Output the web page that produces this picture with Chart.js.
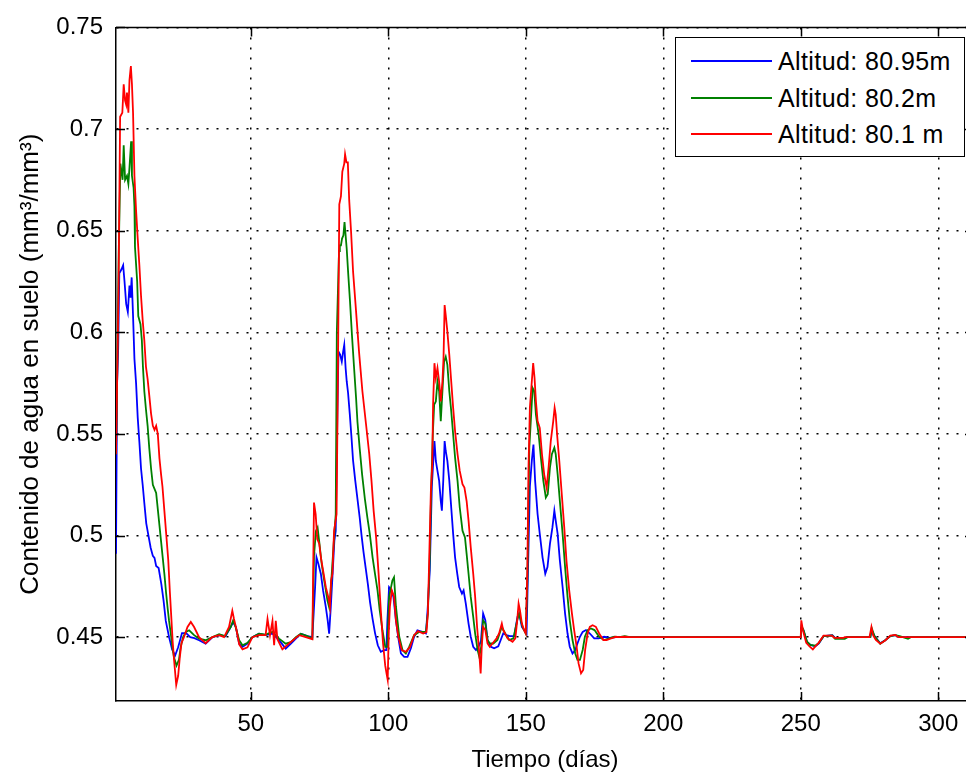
<!DOCTYPE html>
<html>
<head>
<meta charset="utf-8">
<script src="https://cdn.jsdelivr.net/npm/chart.js@4/dist/chart.umd.min.js"></script>
<style>
  body { margin: 0; background: #fff; }
  #wrap { position: relative; width: 966px; height: 772px; overflow: hidden; background: #fff; }
  #soilChart { display: block; }
  #legendBox {
    position: absolute; left: 675px; top: 37px; width: 288px; height: 118px;
    border: 1.5px solid #000; background: #fff;
    font-family: "Liberation Sans", Arial, sans-serif; font-size: 25px; color: #000;
  }
  .legendRow { position: absolute; left: 0; height: 36px; display: flex; align-items: center; }
  .legendLine { width: 81px; height: 2px; margin-left: 15px; margin-right: 6px; }
  .legendText { letter-spacing: 0.4px; white-space: nowrap; }
</style>
</head>
<body>
<div id="wrap">
  <canvas id="soilChart" width="980" height="772"></canvas>
  <div id="legendBox"></div>
</div>
<script>
// ticks of the axes
var dayTicks = [50, 100, 150, 200, 250, 300];
var valueTicks = [0.45, 0.5, 0.55, 0.6, 0.65, 0.7, 0.75];
var valueTickLabels = ["0.45", "0.5", "0.55", "0.6", "0.65", "0.7", "0.75"];

var seriesNames = ["Altitud: 80.95m", "Altitud: 80.2m", "Altitud: 80.1 m"];
var seriesColors = ["#0000ff", "#008000", "#ff0000"];

// [day, contenido de agua]
var blueSeries = [
  [1,0.491],[1.4,0.575],[1.8,0.592],[2.2,0.629],[3.0,0.631],[3.6,0.633],[4.1,0.625],[4.7,0.614],
  [5.3,0.610],[5.9,0.623],[6.3,0.617],[6.7,0.627],[7.2,0.608],[7.7,0.587],[8.3,0.575],[8.9,0.558],
  [9.5,0.546],[10.1,0.533],[10.7,0.525],[11.3,0.516],[12.0,0.506],[12.8,0.500],[13.6,0.494],
  [14.4,0.490],[15.0,0.489],[15.6,0.485],[16.5,0.484],[17.5,0.476],[18.3,0.468],[19.1,0.458],
  [20.3,0.450],[21.4,0.444],[22.5,0.441],[23.6,0.445],[25.0,0.452],[26.5,0.452],[28.0,0.450],
  [29.5,0.4495],[31.2,0.4485],[33.6,0.4468],[36.1,0.450],[38.5,0.451],[40.8,0.4505],[42.7,0.455],
  [43.6,0.4574],[44.6,0.455],[45.8,0.4468],[47.0,0.4452],[48.8,0.4468],[50.6,0.450],[53.0,0.4517],
  [55.4,0.451],[57.9,0.4517],[60.3,0.4485],[62.7,0.4444],[64.6,0.4468],[66.4,0.4493],[68.2,0.4517],
  [70.6,0.4505],[72.4,0.450],[73.4,0.4746],[73.9,0.4893],[74.6,0.486],[75.5,0.4811],[76.3,0.473],
  [77.3,0.4648],[78.0,0.458],[78.5,0.4517],[79.1,0.4648],[79.7,0.4795],[80.4,0.4974],[80.9,0.5023],
  [81.5,0.560],[81.9,0.5905],[82.5,0.589],[83.1,0.5856],[83.6,0.5905],[84.0,0.5938],[84.5,0.5823],
  [84.9,0.5758],[85.4,0.570],[86.0,0.560],[86.6,0.549],[87.2,0.537],[88.0,0.527],[88.8,0.518],
  [89.6,0.509],[90.3,0.500],[91.0,0.492],[91.8,0.484],[92.6,0.476],[93.4,0.467],[94.3,0.459],
  [95.2,0.452],[96.2,0.446],[97.3,0.4428],[98.5,0.4436],[99.3,0.4436],[99.7,0.4583],[100.3,0.4746],
  [101.2,0.473],[101.9,0.4697],[102.8,0.4583],[103.6,0.4502],[104.6,0.442],[105.8,0.4403],
  [107.0,0.4403],[108.2,0.4444],[109.4,0.4502],[110.6,0.4534],[112.4,0.4526],[113.7,0.4518],
  [114.3,0.4632],[115.1,0.4828],[115.85,0.524],[116.3,0.535],[116.8,0.5465],[117.3,0.5367],
  [117.9,0.5318],[118.5,0.527],[119.1,0.517],[119.5,0.5122],[120.0,0.527],[120.5,0.5465],
  [120.9,0.5416],[121.5,0.5367],[122.2,0.527],[122.9,0.5138],[123.6,0.5008],[124.3,0.4893],
  [125.1,0.4812],[125.8,0.4747],[126.8,0.4714],[127.4,0.473],[128.2,0.4665],[129.2,0.4567],
  [130.0,0.4502],[130.9,0.4453],[131.9,0.4437],[132.8,0.4453],[133.7,0.448],[134.5,0.4616],
  [135.3,0.4583],[136.1,0.4486],[137.3,0.4453],[138.5,0.4445],[140.0,0.4455],[140.9,0.4486],
  [141.8,0.4518],[143.0,0.451],[144.2,0.4505],[145.8,0.4505],[147.0,0.460],[147.6,0.4616],
  [148.6,0.4551],[149.4,0.4535],[150.3,0.4518],[151.0,0.4942],[151.5,0.524],[152.2,0.5367],
  [152.8,0.5448],[153.4,0.527],[154.3,0.5106],[155.1,0.5008],[156.1,0.4893],[157.1,0.4812],
  [157.9,0.4845],[158.8,0.4959],[159.7,0.504],[160.4,0.5122],[160.9,0.5073],[161.6,0.5008],
  [162.4,0.4877],[163.4,0.4747],[164.3,0.4616],[165.2,0.4518],[166.0,0.4453],[167.0,0.442],
  [168.0,0.4437],[168.8,0.4469],[169.7,0.4502],[170.7,0.4526],[171.9,0.4535],[173.3,0.4518],
  [174.9,0.4494],[176.5,0.4494],[178.5,0.4502],[180.5,0.4497],[182.8,0.450],[250.0,0.450],
  [250.3,0.455],[251.0,0.4533],[252.3,0.4475],[253.5,0.4462],[255.3,0.4455],[256.6,0.447],
  [258.3,0.4505],[261.5,0.451],[262.5,0.4497],[265.6,0.4495],[267.0,0.450],[275.3,0.450],
  [275.8,0.4535],[276.8,0.4505],[278.9,0.447],[280.7,0.4485],[282.6,0.4505],[284.4,0.451],
  [286.0,0.450],[313,0.450]
];

var greenSeries = [
  [1,0.540],[1.4,0.575],[2.0,0.640],[2.6,0.683],[3.4,0.675],[3.8,0.692],[4.3,0.675],[5.0,0.677],
  [5.5,0.673],[5.9,0.681],[6.5,0.694],[6.8,0.677],[7.4,0.671],[7.7,0.662],[7.9,0.642],[8.7,0.625],
  [9.1,0.608],[9.9,0.604],[10.4,0.596],[10.8,0.583],[11.3,0.571],[11.9,0.562],[12.5,0.554],
  [13.1,0.543],[13.75,0.533],[14.4,0.525],[15.0,0.523],[15.6,0.521],[16.2,0.513],[16.8,0.505],
  [17.4,0.497],[18.0,0.489],[18.6,0.481],[19.2,0.472],[19.8,0.464],[20.3,0.458],[20.9,0.452],
  [21.5,0.445],[22.1,0.440],[23.0,0.436],[23.9,0.439],[24.5,0.445],[25.4,0.450],[26.4,0.4526],
  [27.6,0.4534],[29.4,0.451],[31.2,0.4493],[33.6,0.4485],[36.1,0.450],[38.5,0.4514],[40.6,0.4505],
  [42.7,0.455],[43.6,0.4583],[44.6,0.4545],[45.8,0.4485],[47.0,0.446],[48.8,0.4472],[50.6,0.450],
  [53.0,0.4517],[55.4,0.4513],[57.9,0.4526],[59.1,0.451],[60.3,0.4493],[62.7,0.4468],[64.6,0.4476],
  [66.4,0.450],[68.2,0.4517],[70.6,0.4505],[72.4,0.4493],[73.0,0.490],[73.7,0.5023],[74.3,0.504],
  [74.9,0.497],[75.8,0.486],[76.7,0.478],[77.9,0.468],[78.5,0.4648],[78.9,0.470],[79.4,0.480],
  [80.3,0.499],[80.9,0.5105],[81.3,0.600],[81.6,0.615],[82.1,0.640],[82.4,0.6428],[82.8,0.6428],
  [83.2,0.6461],[83.7,0.6477],[84.1,0.6542],[84.4,0.6493],[84.9,0.641],[85.4,0.6297],[86.1,0.615],
  [86.8,0.5987],[87.5,0.584],[88.3,0.5677],[88.8,0.556],[89.6,0.543],[90.5,0.530],[91.5,0.518],
  [92.4,0.5089],[93.3,0.5007],[94.3,0.4893],[95.2,0.481],[96.1,0.473],[96.9,0.4632],[97.9,0.4534],
  [98.9,0.4452],[99.7,0.4452],[100.3,0.4697],[101.5,0.4779],[102.1,0.4795],[102.8,0.465],
  [104.0,0.4502],[105.2,0.4436],[106.4,0.442],[107.6,0.4452],[109.4,0.451],[111.2,0.4526],
  [113.7,0.4526],[114.4,0.4616],[115.1,0.4893],[115.6,0.522],[116.2,0.550],[116.7,0.5644],
  [117.3,0.566],[117.9,0.5758],[118.5,0.571],[119.1,0.5563],[119.7,0.571],[120.3,0.5856],
  [120.9,0.588],[121.5,0.584],[122.2,0.571],[122.9,0.5612],[123.6,0.5497],[124.3,0.5383],
  [125.2,0.5269],[126.0,0.5138],[127.0,0.5024],[127.9,0.4991],[128.5,0.491],[129.2,0.4812],
  [130.0,0.4698],[130.9,0.460],[131.6,0.4518],[132.5,0.4437],[133.1,0.4404],[133.8,0.4453],
  [134.5,0.4583],[135.3,0.4567],[136.1,0.4486],[136.9,0.4469],[138.2,0.4469],[139.7,0.4486],
  [141.3,0.4551],[142.5,0.4518],[144.0,0.4486],[145.5,0.4494],[146.9,0.4583],[147.6,0.4616],
  [148.8,0.4551],[150.0,0.4518],[150.6,0.478],[151.3,0.5432],[152.5,0.5726],[153.1,0.571],
  [153.7,0.5595],[154.7,0.5497],[155.5,0.5383],[156.4,0.5269],[157.3,0.5187],[158.0,0.5203],
  [158.8,0.5334],[159.5,0.540],[160.4,0.5432],[160.9,0.540],[161.6,0.5301],[162.4,0.517],
  [163.4,0.5008],[164.3,0.4845],[165.2,0.4698],[166.0,0.4583],[167.0,0.4486],[168.0,0.442],
  [168.8,0.4388],[169.7,0.4388],[170.7,0.4437],[171.5,0.4502],[172.5,0.4535],[173.7,0.4543],
  [175.0,0.4535],[176.7,0.4502],[178.5,0.4486],[180.3,0.4494],[182.2,0.4502],[184.0,0.450],
  [186.0,0.4505],[188.0,0.450],[250.0,0.450],[250.3,0.4555],[251.0,0.4535],[252.3,0.4478],
  [253.5,0.4462],[255.3,0.4458],[256.6,0.4472],[258.3,0.4505],[261.5,0.4508],[262.5,0.4492],
  [266.0,0.4492],[267.0,0.450],[275.3,0.450],[275.8,0.4545],[276.8,0.4505],[278.9,0.4468],
  [280.7,0.4485],[282.6,0.4505],[284.4,0.451],[286.0,0.4505],[289.0,0.4492],[290.0,0.450],[313,0.450]
];

var redSeries = [
  [1,0.540],[1.4,0.575],[1.9,0.620],[2.5,0.706],[3.3,0.708],[3.8,0.722],[4.3,0.714],[4.7,0.712],
  [5.0,0.718],[5.5,0.708],[5.9,0.724],[6.4,0.731],[6.8,0.722],[7.2,0.708],[7.7,0.677],[8.3,0.660],
  [8.9,0.646],[9.5,0.633],[10.1,0.618],[10.7,0.606],[11.3,0.596],[11.9,0.583],[12.5,0.577],
  [13.1,0.569],[13.75,0.560],[14.4,0.554],[15.0,0.552],[15.6,0.554],[16.2,0.550],[16.8,0.538],
  [17.4,0.530],[17.9,0.524],[18.6,0.512],[19.3,0.500],[20.0,0.488],[20.6,0.472],[21.1,0.460],
  [21.6,0.448],[22.1,0.439],[22.9,0.4265],[23.6,0.431],[24.2,0.440],[24.8,0.447],[25.7,0.450],
  [27.0,0.455],[28.2,0.4575],[29.4,0.455],[31.2,0.450],[33.6,0.447],[36.0,0.450],[38.5,0.451],
  [40.3,0.450],[42.1,0.455],[43.3,0.463],[43.9,0.459],[44.6,0.455],[45.8,0.4465],[47.0,0.444],
  [48.8,0.445],[50.6,0.450],[53.0,0.451],[55.4,0.451],[56.1,0.459],[57.0,0.451],[57.9,0.458],
  [58.5,0.446],[59.1,0.458],[59.7,0.449],[61.5,0.444],[64.0,0.447],[67.6,0.451],[70.0,0.450],
  [72.4,0.449],[73.0,0.5162],[73.6,0.5105],[74.2,0.4983],[74.9,0.496],[75.5,0.4893],[76.3,0.4828],
  [77.3,0.4746],[78.2,0.4697],[78.8,0.4648],[79.2,0.4779],[79.7,0.4812],[80.3,0.5023],[81.2,0.5105],
  [81.7,0.580],[82.2,0.663],[82.8,0.667],[83.3,0.679],[84.0,0.683],[84.3,0.6876],[84.8,0.6836],
  [85.3,0.6836],[85.8,0.665],[86.5,0.649],[87.2,0.630],[88.2,0.612],[89.4,0.590],[90.6,0.571],
  [91.9,0.555],[93.1,0.540],[93.9,0.527],[94.7,0.512],[95.6,0.499],[96.5,0.481],[97.3,0.463],
  [98.1,0.447],[98.9,0.436],[99.4,0.432],[99.8,0.429],[100.2,0.453],[100.6,0.465],[101.3,0.473],
  [102.1,0.470],[102.8,0.458],[103.7,0.450],[104.9,0.4436],[106.4,0.4428],[107.9,0.4452],
  [109.4,0.451],[110.8,0.453],[112.7,0.4518],[113.9,0.4525],[114.4,0.4616],[114.9,0.489],
  [115.5,0.522],[116.0,0.535],[116.3,0.5644],[116.8,0.5848],[117.3,0.5775],[117.9,0.5824],
  [118.5,0.5758],[119.1,0.566],[119.7,0.5758],[120.1,0.5873],[120.5,0.6134],[120.9,0.6085],
  [121.5,0.6003],[122.2,0.5889],[122.9,0.5758],[123.6,0.5628],[124.3,0.5514],[125.2,0.540],
  [126.0,0.5318],[127.0,0.5253],[127.7,0.5236],[128.5,0.517],[129.2,0.5073],[130.0,0.4942],
  [130.9,0.4812],[131.6,0.4698],[132.3,0.4551],[133.1,0.442],[133.6,0.4322],[134.0,0.4453],
  [134.5,0.4551],[135.3,0.4535],[136.1,0.4469],[136.9,0.4453],[137.9,0.4469],[139.4,0.4494],
  [140.3,0.4518],[141.3,0.4567],[141.8,0.4535],[142.5,0.4518],[143.4,0.4494],[144.2,0.4486],
  [145.2,0.4477],[146.2,0.4494],[146.9,0.4583],[147.4,0.4665],[147.9,0.4632],[148.6,0.4567],
  [149.4,0.4535],[150.0,0.4518],[150.6,0.4845],[151.0,0.5334],[151.5,0.5628],[152.2,0.5758],
  [152.7,0.5848],[153.2,0.5775],[153.7,0.566],[154.3,0.5563],[155.1,0.553],[155.9,0.540],
  [156.7,0.5301],[157.6,0.5236],[158.3,0.5334],[159.1,0.5465],[160.0,0.5563],[160.5,0.5628],
  [160.9,0.5595],[161.4,0.5497],[162.2,0.5367],[163.1,0.5203],[164.0,0.504],[164.8,0.4877],
  [165.8,0.473],[166.8,0.4616],[167.6,0.4535],[168.5,0.4453],[169.2,0.4371],[170.1,0.4322],
  [170.9,0.4339],[171.6,0.4437],[172.5,0.4518],[173.3,0.4551],[174.3,0.4559],[175.5,0.4551],
  [176.7,0.4518],[178.2,0.4486],[179.4,0.4486],[181.0,0.4494],[182.8,0.4502],[184.0,0.450],
  [186.0,0.4502],[188.0,0.450],[250.0,0.450],[250.2,0.4583],[250.8,0.4533],[252.0,0.4472],
  [253.2,0.4455],[254.4,0.444],[255.3,0.4455],[256.5,0.4472],[258.3,0.4508],[261.3,0.4508],
  [262.2,0.4497],[265.6,0.4497],[266.0,0.450],[275.0,0.450],[275.7,0.455],[276.3,0.451],
  [277.3,0.4486],[278.9,0.4468],[280.7,0.4484],[282.6,0.4508],[284.4,0.4511],[285.6,0.450],[313,0.450]
];

var allSeries = [blueSeries, greenSeries, redSeries];

Chart.defaults.font.family = "'Liberation Sans', Arial, sans-serif";
Chart.defaults.font.size = 24;
Chart.defaults.color = "#000";

function toPoints(series) {
  return series.map(function (p) { return { x: p[0], y: p[1] }; });
}

// caja estilo matlab: borde superior y marcas hacia dentro
var boxPlugin = {
  id: "matlabBox",
  afterDraw: function (chart) {
    var ctx = chart.ctx;
    var area = chart.chartArea;
    var xs = chart.scales.x;
    var ys = chart.scales.y;
    ctx.save();
    ctx.strokeStyle = "#000";
    ctx.lineWidth = 1.5;
    ctx.beginPath();
    ctx.moveTo(area.left, area.top);
    ctx.lineTo(area.right, area.top);
    ctx.lineTo(area.right, area.bottom);
    ctx.stroke();
    xs.ticks.forEach(function (t) {
      var px = Math.round(xs.getPixelForValue(t.value)) + 0.5;
      ctx.beginPath();
      ctx.moveTo(px, area.bottom);
      ctx.lineTo(px, area.bottom - 9);
      ctx.moveTo(px, area.top);
      ctx.lineTo(px, area.top + 9);
      ctx.stroke();
    });
    ys.ticks.forEach(function (t) {
      var py = Math.round(ys.getPixelForValue(t.value)) + 0.5;
      ctx.beginPath();
      ctx.moveTo(area.left, py);
      ctx.lineTo(area.left + 9, py);
      ctx.moveTo(area.right, py);
      ctx.lineTo(area.right - 9, py);
      ctx.stroke();
    });
    ctx.restore();
  }
};

var datasets = allSeries.map(function (series, i) {
  return {
    label: seriesNames[i],
    data: toPoints(series),
    borderColor: seriesColors[i],
    backgroundColor: seriesColors[i],
    borderWidth: 1.8,
    pointRadius: 0,
    tension: 0,
    fill: false,
    order: 2 - i
  };
});

var soilChart = new Chart(document.querySelector("#soilChart"), {
  type: "line",
  data: { datasets: datasets },
  plugins: [boxPlugin],
  options: {
    responsive: false,
    animation: false,
    devicePixelRatio: 1,
    layout: { padding: { left: 0, top: 24, right: 6, bottom: 0 } },
    plugins: { legend: { display: false }, tooltip: { enabled: false } },
    scales: {
      x: {
        type: "linear",
        min: 1,
        max: 313,
        afterBuildTicks: function (axis) {
          axis.ticks = dayTicks.map(function (v) { return { value: v }; });
        },
        afterFit: function (axis) { axis.height = 71; },
        ticks: { padding: 9, maxRotation: 0, autoSkip: false },
        grid: { color: "#000", lineWidth: 1.5, drawTicks: false },
        border: { display: true, color: "#000", width: 1.5, dash: [2, 8] },
        title: { display: true, text: "Tiempo (días)", font: { size: 24, lineHeight: 1 }, padding: { top: 0, bottom: 0 } }
      },
      y: {
        type: "linear",
        min: 0.4186,
        max: 0.75,
        afterBuildTicks: function (axis) {
          axis.ticks = valueTicks.map(function (v) { return { value: v }; });
        },
        afterFit: function (axis) { axis.width = 116; },
        ticks: {
          padding: 13,
          autoSkip: false,
          callback: function (value, index) { return valueTickLabels[index]; }
        },
        grid: { color: "#000", lineWidth: 1.5, drawTicks: false },
        border: { display: true, color: "#000", width: 1.5, dash: [2, 8] },
        title: { display: true, text: "Contenido de agua en suelo (mm³/mm³)", font: { size: 26, lineHeight: 1.2 }, padding: { top: 15, bottom: 0 } }
      }
    }
  }
});

// leyenda dentro del area del grafico
var legendBox = document.querySelector("#legendBox");
var rowCenters = [23, 60, 96];
seriesNames.forEach(function (name, i) {
  var row = document.createElement("div");
  row.setAttribute("class", "legendRow");
  row.style.top = (rowCenters[i] - 18) + "px";
  var line = document.createElement("span");
  line.setAttribute("class", "legendLine");
  line.style.background = seriesColors[i];
  var text = document.createElement("span");
  text.setAttribute("class", "legendText");
  text.innerText = name;
  row.appendChild(line);
  row.appendChild(text);
  legendBox.appendChild(row);
});
</script>
</body>
</html>
